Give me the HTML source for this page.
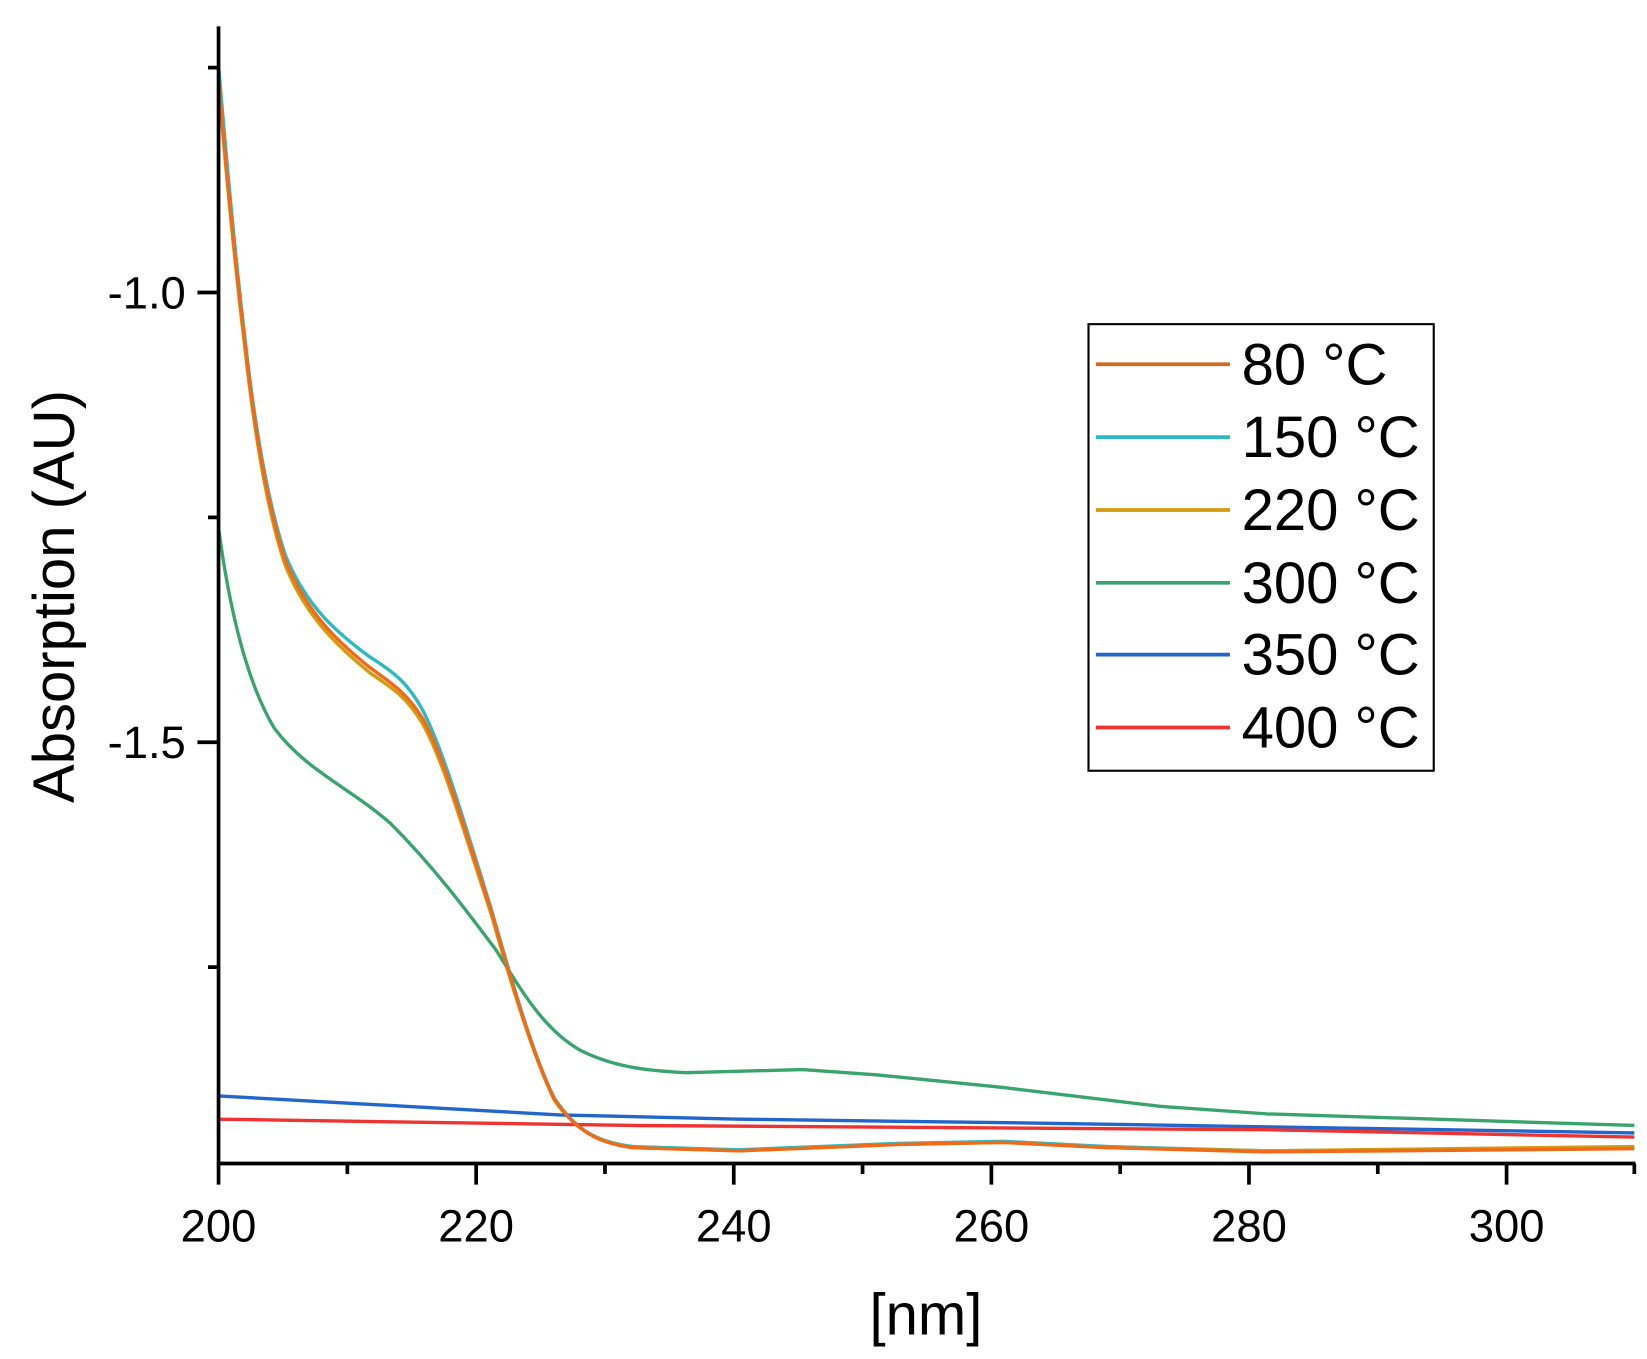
<!DOCTYPE html>
<html><head><meta charset="utf-8"><style>html,body{margin:0;padding:0;background:#fff}</style></head><body>
<svg width="1647" height="1354" viewBox="0 0 1560 1282.4" xmlns="http://www.w3.org/2000/svg" font-family="Liberation Sans, sans-serif">
<rect width="1560" height="1283" fill="#fff"/>
<g fill="none" stroke-width="3.2" stroke-linejoin="round">
<path stroke="#2bb9c4" d="M207,62 C212,120 220,220 232,320 C242,410 255,480 270,525 C290,575 320,600 350,622 C372,636 385,645 400,672 C420,710 440,780 465,860 C485,930 505,1000 525,1040 C545,1070 565,1082 600,1086 L700,1089 L850,1083 L950,1081 L1050,1086 L1200,1090 L1548,1087"/>
<path stroke="#d49a10" d="M207,80 C212,140 220,230 232,330 C242,420 255,490 270,535 C290,585 320,612 350,637 C372,652 385,660 400,685 C420,720 440,790 465,865 C485,935 505,1000 525,1042 C545,1070 565,1082 600,1087 L700,1090 L850,1084 L950,1082 L1050,1087 L1200,1090 L1548,1086"/>
<path stroke="#3aa46e" d="M207,500 C215,560 230,640 260,690 C290,730 330,745 370,780 C410,820 440,860 470,900 C495,940 515,975 550,995 C580,1010 610,1014 650,1016 L760,1013 L830,1018 L950,1030 L1100,1048 L1200,1055 L1548,1066"/>
<path stroke="#2266cc" d="M207,1038 L530,1056 L700,1060 L1000,1064 L1548,1073"/>
<path stroke="#ee3333" d="M207,1060 L600,1066 L1200,1070 L1548,1077"/>
<path stroke="#f06a1a" d="M207,76 C212,135 220,225 232,325 C242,415 255,485 270,530 C290,580 320,608 350,632 C372,648 385,656 400,680 C420,715 440,785 465,862 C485,932 505,1000 525,1041 C545,1070 565,1083 600,1087 L700,1090 L850,1084 L950,1082 L1050,1087 L1200,1091 L1548,1088"/>
</g>
<g stroke="#000" stroke-width="3.5" fill="none">
<path d="M207,25 V1102 H1549"/>
<path d="M207,1102v20 M329,1102v10 M451,1102v20 M573,1102v10 M695,1102v20 M817,1102v10 M939,1102v20 M1061,1102v10 M1183,1102v20 M1305,1102v10 M1427,1102v20 M1548,1102v10"/>
<path d="M207,277h-20 M207,490h-10 M207,703h-20 M207,916h-10 M207,64h-10"/>
</g>
<g font-size="43" fill="#000">
<text x="207" y="1176" text-anchor="middle">200</text>
<text x="451" y="1176" text-anchor="middle">220</text>
<text x="695" y="1176" text-anchor="middle">240</text>
<text x="939" y="1176" text-anchor="middle">260</text>
<text x="1183" y="1176" text-anchor="middle">280</text>
<text x="1427" y="1176" text-anchor="middle">300</text>
<text x="176" y="292" text-anchor="end">-1.0</text>
<text x="176" y="718" text-anchor="end">-1.5</text>
</g>
<text x="877" y="1264" font-size="55" text-anchor="middle">[nm]</text>
<text transform="translate(70,565) rotate(-90)" font-size="55" text-anchor="middle">Absorption (AU)</text>
<rect x="1031" y="307" width="327" height="423" fill="#fff" stroke="#000" stroke-width="2"/>
<g stroke-width="3.5">
<line x1="1038" x2="1165" y1="345" y2="345" stroke="#d2691e"/>
<line x1="1038" x2="1165" y1="414" y2="414" stroke="#2bb9c4"/>
<line x1="1038" x2="1165" y1="483" y2="483" stroke="#d49a10"/>
<line x1="1038" x2="1165" y1="552" y2="552" stroke="#3aa46e"/>
<line x1="1038" x2="1165" y1="620" y2="620" stroke="#2266cc"/>
<line x1="1038" x2="1165" y1="689" y2="689" stroke="#ee3333"/>
</g>
<g font-size="55" fill="#000">
<text x="1176" y="364">80 °C</text>
<text x="1176" y="433">150 °C</text>
<text x="1176" y="502">220 °C</text>
<text x="1176" y="571">300 °C</text>
<text x="1176" y="639">350 °C</text>
<text x="1176" y="708">400 °C</text>
</g>
</svg>
</body></html>
